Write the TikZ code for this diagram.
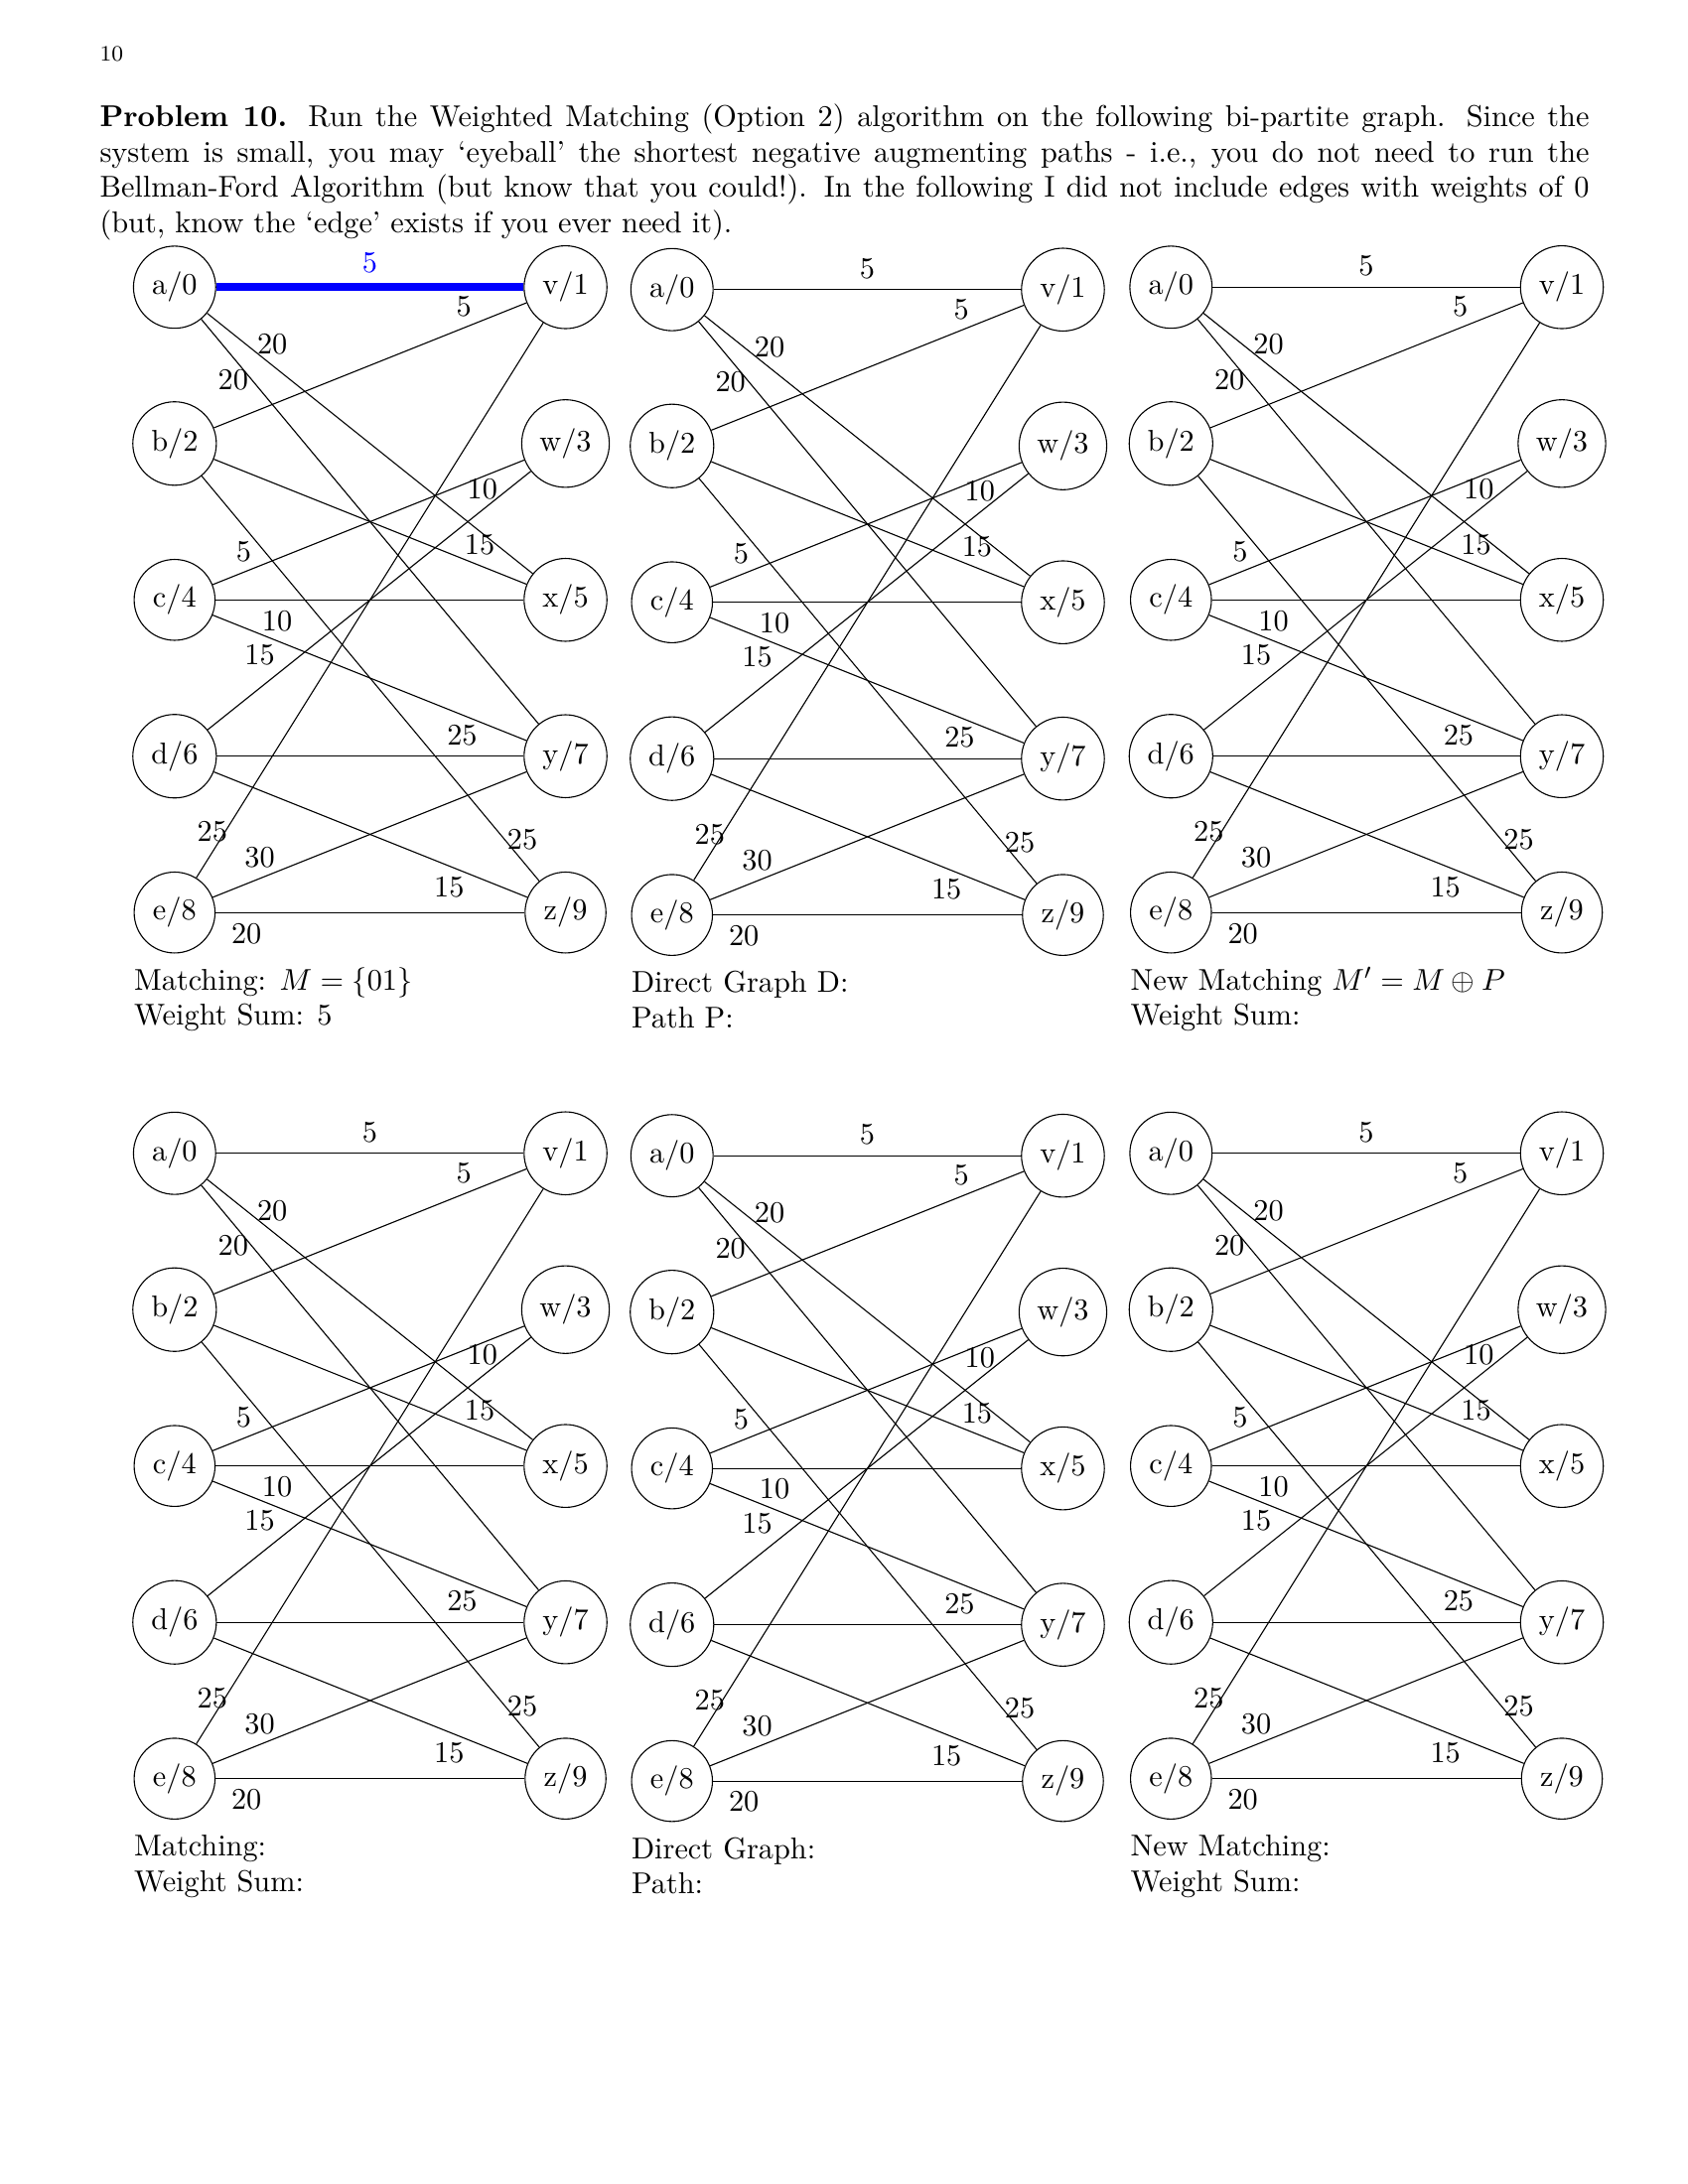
\documentclass[11pt,tikz,border=0pt]{standalone}
\usepackage{color}
\usepackage{amsmath}
\usepackage{amsfonts}
\usetikzlibrary{calc}

\tikzset{
	vertex/.style={shape=circle,draw=black},
	matched/.style={draw=blue,text=blue,line width=2.8pt},
	unmatched/.style={draw=black},
	caption/.style={anchor=base west,align=left,inner sep=0pt}
}

\begin{document}
\begin{tikzpicture}[font=\fontsize{10.95}{12.9}\selectfont]
	\useasboundingbox (0,0) rectangle (21.59,-27.94);

	\node[anchor=base west,inner sep=0pt,font=\fontsize{8}{9.5}\selectfont] (pagenum) at (1.27,-0.784) {10};
	\node[anchor=base west,inner sep=0pt,text width=19.05cm,align=justify] (problem) at (1.27,-1.617)
		{\textbf{Problem 10.} Run the Weighted Matching (Option 2) algorithm on the following bi-partite graph.  Since the system is small, you may `eyeball' the shortest negative augmenting paths - i.e., you do not need to run the Bellman-Ford Algorithm (but know that you could!).  In the following I did not include edges with weights of 0 (but, know the `edge' exists if you ever need it).};

	\foreach \gx/\gy/\avstyle/\captext in {
		2.233/-3.674/matched/{Matching: $M=\{01\}$\\Weight Sum: 5},
		8.595/-3.705/unmatched/{Direct Graph D:\\Path P:},
		14.977/-3.674/unmatched/{New Matching $M'=M\oplus P$\\Weight Sum:},
		2.233/-14.754/unmatched/{Matching:\\Weight Sum:},
		8.595/-14.785/unmatched/{Direct Graph:\\Path:},
		14.977/-14.754/unmatched/{New Matching:\\Weight Sum:}}{
	\begin{scope}[shift={(\gx,\gy)}]
	\node[vertex] (a) at (0, 0)  {a/0};
	\node[vertex] (b) at (0, -2) {b/2};
	\node[vertex] (c) at (0, -4) {c/4};
	\node[vertex] (d) at (0, -6) {d/6};
	\node[vertex] (e) at (0, -8) {e/8};
	\node[vertex] (v) at (5, 0)  {v/1};
	\node[vertex] (w) at (5, -2) {w/3};
	\node[vertex] (x) at (5, -4) {x/5};
	\node[vertex] (y) at (5, -6) {y/7};
	\node[vertex] (z) at (5, -8) {z/9};

	\path[\avstyle] (a) edge node[above]{5} (v);
	\path[-] (a) edge node[pos=.2,above]{20} (x);
	\path[-] (a) edge node[pos=.15,left=-2.5pt]{20} (y);
	\path[-] (b) edge node[pos=.8,above]{5} (v);
	\path[-] (b) edge node[pos=.85,above]{15} (x);
	\path[-] (b) edge node[pos=.95,above]{25} (z);
	\path[-] (c) edge node[pos=.1,above]{5} (w);
	\path[-] (c) edge node[pos=.2,below]{10} (x);
	\path[-] (c) edge node[pos=.15,below]{15} (y);
	\path[-] (d) edge node[pos=.85,above]{10} (w);
	\path[-] (d) edge node[pos=.8,above]{25} (y);
	\path[-] (d) edge node[pos=.75,below]{15} (z);
	\path[-] (e) edge node[pos=.12,below left]{25} (v);
	\path[-] (e) edge node[pos=.15,above]{30} (y);
	\path[-] (e) edge node[pos=.1,below]{20} (z);

	\node[caption] (cap) at ($(e.west |- e.south)+(0,-0.92)$) {\captext};
	\end{scope}
	}
\end{tikzpicture}
\end{document}
